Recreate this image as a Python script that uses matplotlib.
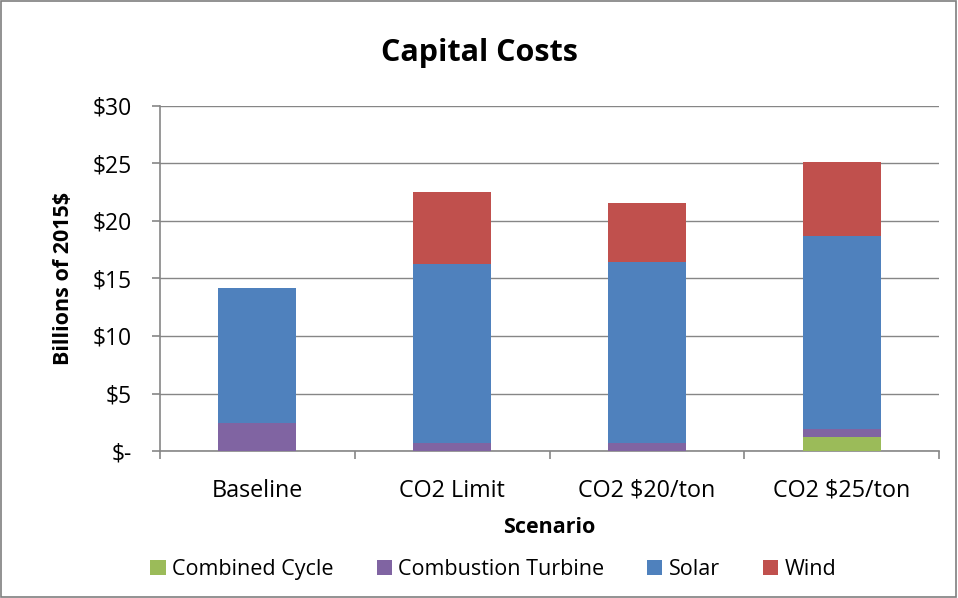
import matplotlib
matplotlib.use("Agg")
import matplotlib.pyplot as plt
from matplotlib.patches import Rectangle
import numpy as np

plt.rcParams['font.family'] = ['Open Sans', 'DejaVu Sans']

scenarios = ["Baseline", "CO2 Limit", "CO2 $20/ton", "CO2 $25/ton"]
combined_cycle = [0.0, 0.0, 0.0, 1.25]
combustion_turbine = [2.4, 0.67, 0.67, 0.64]
solar = [11.77, 15.59, 15.76, 16.81]
wind = [0.0, 6.26, 5.14, 6.43]
yticks = [0, 5, 10, 15, 20, 25, 30]
ytick_labels = ["$-", "$5", "$10", "$15", "$20", "$25", "$30"]

series = [("Combined Cycle", combined_cycle, "#9BBB59"),
          ("Combustion Turbine", combustion_turbine, "#8064A2"),
          ("Solar", solar, "#4F81BD"),
          ("Wind", wind, "#C0504D")]

fig = plt.figure(figsize=(9.58, 5.98), dpi=100)
fig.patches.append(Rectangle((0.001, 0.001), 0.997, 0.997, transform=fig.transFigure,
                             fill=False, edgecolor="#7F7F7F", linewidth=1.2))
ax = fig.add_axes([0.167, 0.2458, 0.8132, 0.577])

x = np.arange(len(scenarios))
bottom = np.zeros(len(scenarios))
for name, vals, col in series:
    vals = np.array(vals)
    ax.bar(x, vals, width=0.4, bottom=bottom, color=col, label=name,
           edgecolor="none", zorder=3)
    bottom += vals

ax.set_xlim(-0.5, len(scenarios) - 0.5)
ax.set_ylim(0, 30)
ax.set_yticks(yticks)
ax.set_yticklabels(ytick_labels, fontsize=16.5)
ax.set_xticks(x)
ax.set_xticklabels(scenarios, fontsize=16.8)
ax.tick_params(axis='x', length=0, pad=20)
ax.set_xticks(np.arange(-0.5, len(scenarios)), minor=True)
ax.tick_params(axis='x', which='minor', length=6, color="#868686", width=1.2)
ax.tick_params(axis='y', length=6, color="#868686", width=1.2, pad=14)
ax.yaxis.grid(True, color="#868686", linewidth=1.0, zorder=0)
for s in ["top", "right"]:
    ax.spines[s].set_visible(False)
for s in ["left", "bottom"]:
    ax.spines[s].set_color("#868686")
    ax.spines[s].set_linewidth(1.2)

ax.set_ylabel("Billions of 2015$", fontsize=15.5, fontweight="bold")
ax.yaxis.set_label_coords(-0.111, 0.5)
ax.set_xlabel("Scenario", fontsize=15.5, fontweight="bold", labelpad=10)
fig.text(0.5, 0.912, "Capital Costs", ha="center", va="center", fontsize=22, fontweight="bold")

handles, labels = ax.get_legend_handles_labels()
fig.legend(handles, labels, loc="center", bbox_to_anchor=(0.515, 0.048), ncol=4,
           frameon=False, fontsize=15.5, handlelength=0.7, handleheight=0.7,
           handletextpad=0.3, columnspacing=2.0)

fig.savefig("out.png", dpi=100)
